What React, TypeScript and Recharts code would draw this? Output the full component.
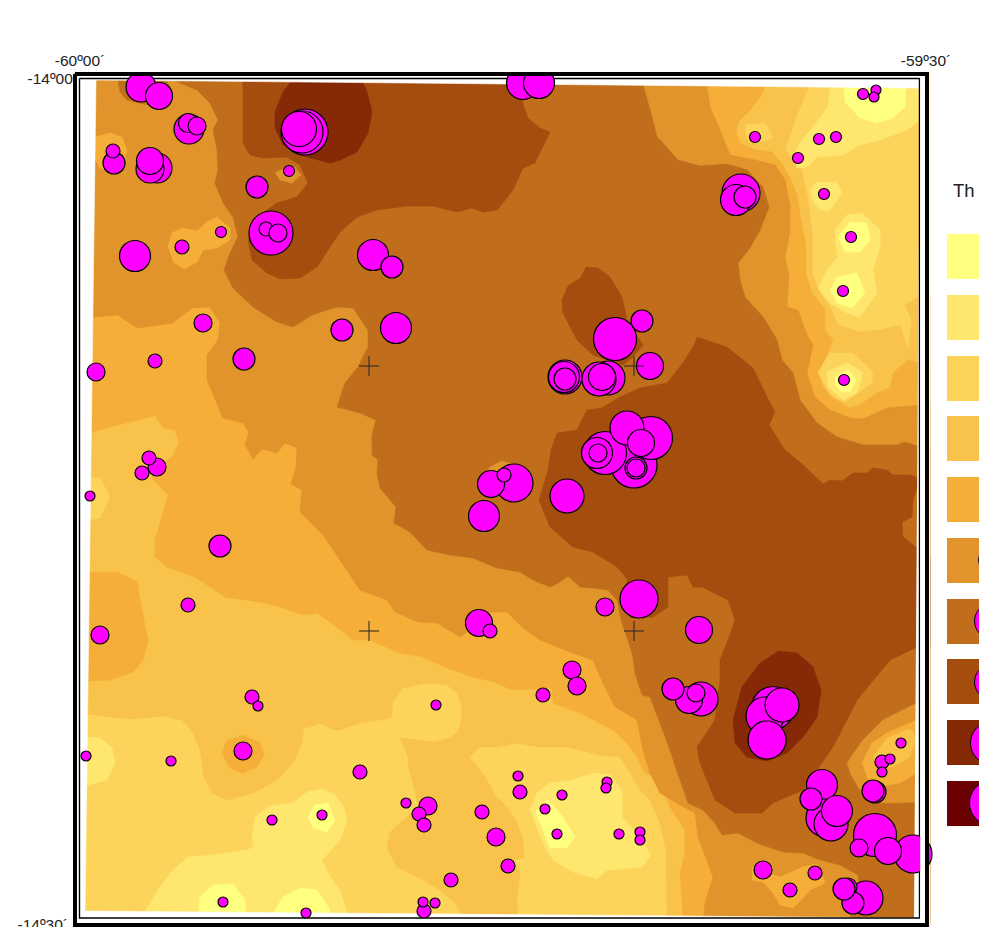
import { Legend, Scatter, ScatterChart, XAxis, YAxis, ZAxis } from "recharts";

type Pt = [number, number];

// map grid: x = 80 and 926 are -60º00´ and -59º30´, y = 78 and 924 are -14º00´ and -14º30´
const X_TICKS = [80, 926];
const Y_TICKS = [78, 924];
const X_LABELS = ["-60º00´", "-59º30´"];
const Y_LABELS = ["-14º00´", "-14º30´"];

const COLORS = ["#FFFF80", "#FEE66F", "#FCD45C", "#F8C24B", "#F5AE37", "#E0942B", "#C06E1C", "#A54C0F", "#862906", "#6B0000"];
const LEGEND_TH = [0, 7, 8, 10, 13, 14, 18, 18, 22, 23];

const MAP_BASE: Pt[] = [[70, 70], [930, 70], [930, 925], [70, 925]];

const ZONE_4: Pt[] = [[70, 70], [809, 70], [809, 86], [803, 100], [795, 120], [790, 135], [785, 150], [798, 163], [803, 175], [808, 200], [812, 230], [812, 253], [812, 273], [820, 293], [830, 307], [838, 325], [860, 332], [880, 330], [900, 325], [908, 350], [912, 320], [905, 305], [920, 296], [930, 296], [930, 925], [667, 925], [667, 917], [666, 850], [660, 823], [650, 800], [640, 790], [630, 773], [620, 757], [600, 755], [567, 747], [540, 747], [517, 743], [497, 747], [480, 747], [469, 757], [480, 770], [487, 780], [495, 795], [507, 807], [517, 823], [523, 840], [524, 858], [513, 860], [520, 873], [517, 900], [518, 925], [468, 925], [455, 903], [440, 890], [423, 880], [397, 867], [387, 848], [390, 832], [407, 817], [418, 807], [415, 790], [409, 770], [408, 757], [400, 738], [417, 740], [433, 742], [450, 738], [459, 730], [461, 720], [462, 707], [457, 693], [447, 685], [427, 683], [403, 688], [393, 702], [391, 718], [380, 720], [360, 723], [340, 730], [333, 730], [320, 723], [307, 728], [304, 727], [302, 743], [293, 763], [277, 780], [253, 793], [227, 800], [212, 793], [204, 777], [200, 750], [193, 733], [182, 720], [163, 716], [133, 719], [110, 717], [87, 714], [70, 714]];

const ZONE_5: Pt[] = [[70, 70], [765, 70], [765, 87], [760, 97], [750, 110], [738, 122], [736, 133], [740, 143], [755, 150], [772, 152], [783, 165], [790, 178], [797, 195], [800, 215], [805, 240], [806, 253], [806, 275], [812, 293], [825, 310], [825, 330], [833, 340], [830, 348], [818, 373], [823, 387], [833, 398], [850, 408], [860, 405], [877, 393], [890, 388], [893, 373], [908, 360], [920, 363], [930, 363], [930, 925], [683, 925], [682, 897], [680, 873], [685, 853], [685, 830], [670, 807], [660, 782], [650, 775], [645, 773], [637, 757], [627, 743], [613, 730], [580, 713], [553, 703], [552, 688], [527, 689], [512, 690], [495, 682], [473, 677], [447, 668], [423, 657], [400, 653], [370, 640], [353, 640], [337, 627], [317, 613], [303, 615], [280, 607], [260, 602], [225, 597], [195, 577], [167, 567], [155, 557], [155, 540], [162, 517], [168, 495], [152, 478], [157, 467], [172, 457], [179, 443], [175, 430], [163, 428], [155, 416], [117, 425], [90, 433], [70, 433]];

const ZONE_6: Pt[] = [[70, 70], [707, 70], [707, 87], [710, 107], [718, 125], [730, 155], [755, 160], [775, 165], [785, 180], [790, 205], [790, 230], [785, 258], [789, 275], [787, 307], [798, 310], [807, 335], [813, 345], [807, 373], [815, 397], [830, 410], [850, 418], [863, 419], [887, 408], [920, 405], [930, 405], [930, 925], [703, 925], [705, 903], [713, 877], [698, 837], [695, 813], [680, 805], [660, 793], [650, 773], [643, 750], [637, 720], [615, 707], [603, 683], [593, 660], [570, 652], [540, 640], [523, 628], [507, 612], [490, 612], [472, 628], [460, 637], [437, 623], [418, 622], [395, 612], [387, 600], [360, 590], [340, 560], [323, 535], [300, 512], [302, 490], [291, 484], [296, 467], [297, 448], [285, 443], [277, 453], [262, 449], [253, 459], [245, 445], [249, 432], [243, 423], [223, 418], [207, 380], [207, 355], [218, 340], [220, 323], [210, 307], [192, 308], [173, 323], [137, 328], [118, 315], [93, 317], [70, 317]];

const ZONE_7: Pt[] = [[173, 70], [643, 70], [643, 85], [652, 117], [657, 137], [660, 140], [678, 160], [700, 166], [727, 164], [747, 170], [763, 187], [769, 207], [760, 230], [750, 248], [738, 263], [740, 280], [745, 297], [763, 317], [773, 333], [777, 340], [782, 360], [793, 373], [800, 400], [817, 423], [837, 437], [863, 445], [897, 445], [905, 442], [920, 447], [930, 447], [930, 925], [850, 925], [850, 918], [860, 890], [858, 875], [840, 865], [820, 860], [803, 853], [783, 852], [757, 843], [738, 833], [722, 835], [715, 823], [703, 810], [688, 803], [680, 780], [670, 750], [660, 723], [650, 697], [642, 695], [635, 673], [633, 657], [628, 640], [621, 620], [617, 600], [608, 590], [593, 588], [580, 587], [568, 576], [560, 582], [550, 587], [533, 580], [520, 572], [497, 568], [473, 558], [450, 555], [427, 550], [410, 532], [394, 523], [396, 507], [380, 488], [377, 473], [378, 460], [372, 455], [372, 435], [376, 420], [360, 413], [337, 407], [345, 383], [358, 367], [368, 347], [368, 330], [353, 308], [340, 307], [333, 308], [312, 315], [293, 327], [277, 322], [253, 307], [233, 288], [224, 270], [230, 253], [238, 237], [233, 217], [223, 203], [215, 183], [218, 170], [217, 150], [213, 130], [218, 120], [210, 103], [197, 90], [173, 80]];
const ZONE_7_TOP_LEFT: Pt[] = [[116, 70], [120, 92], [127, 100], [140, 103], [160, 108], [172, 90], [160, 70]];

const ZONE_8_NORTH: Pt[] = [[242, 70], [505, 70], [510, 78], [523, 98], [523, 105], [528, 118], [540, 128], [550, 132], [535, 163], [523, 168], [513, 190], [497, 210], [483, 212], [472, 208], [457, 212], [433, 206], [407, 206], [377, 210], [357, 217], [340, 232], [330, 247], [317, 267], [300, 278], [280, 279], [267, 273], [252, 260], [248, 240], [257, 217], [277, 203], [297, 197], [308, 183], [300, 165], [287, 157], [263, 158], [250, 155], [243, 143], [243, 107]];
const ZONE_8_HILL: Pt[] = [[586, 267], [598, 268], [610, 277], [622, 297], [627, 320], [643, 345], [633, 357], [623, 365], [593, 355], [577, 340], [563, 313], [562, 300], [568, 286], [580, 278]];
const ZONE_8_MAIN: Pt[] = [[697, 337], [727, 347], [753, 368], [767, 397], [775, 412], [769, 425], [785, 450], [802, 464], [823, 484], [830, 480], [842, 481], [853, 473], [867, 473], [873, 468], [887, 470], [893, 475], [910, 475], [920, 478], [913, 500], [912, 517], [902, 522], [903, 537], [917, 548], [920, 555], [930, 555], [930, 647], [917, 647], [890, 660], [857, 700], [833, 747], [803, 790], [773, 803], [762, 813], [735, 813], [715, 800], [700, 763], [697, 747], [715, 720], [720, 680], [720, 660], [728, 640], [735, 620], [728, 600], [702, 587], [693, 587], [687, 575], [668, 577], [668, 607], [653, 617], [630, 618], [622, 590], [628, 580], [617, 567], [593, 552], [573, 547], [550, 527], [539, 500], [548, 470], [551, 450], [557, 433], [577, 430], [587, 410], [602, 408], [620, 397], [640, 388], [667, 383], [683, 363], [693, 347]];

const ZONE_9_NORTH: Pt[] = [[300, 70], [283, 92], [275, 112], [275, 128], [283, 145], [300, 155], [330, 163], [340, 160], [357, 152], [368, 133], [372, 112], [367, 92], [358, 70]];
const ZONE_9_SOUTH: Pt[] = [[778, 651], [797, 653], [813, 667], [821, 690], [817, 717], [803, 737], [787, 753], [767, 761], [747, 757], [735, 743], [733, 720], [742, 687], [760, 663]];

const SPOT_6_TOP: Pt[] = [[275, 173], [287, 167], [295, 167], [301, 175], [292, 183], [280, 180]];
const SPOT_6_BUBBLES: Pt[] = [[483, 478], [490, 467], [502, 461], [512, 464], [500, 480]];
const SPOT_6_EAST: Pt[] = [[847, 763], [863, 740], [883, 720], [917, 703], [930, 703], [930, 802], [917, 802], [893, 803], [873, 802], [860, 790], [850, 773]];
const SPOT_5_EAST: Pt[] = [[862, 763], [872, 743], [887, 733], [917, 720], [930, 720], [930, 770], [917, 773], [900, 783], [877, 787], [867, 777]];
const SPOT_4_EAST: Pt[] = [[873, 757], [887, 738], [910, 729], [916, 737], [910, 757], [893, 767], [880, 770]];
const SPOT_5_A: Pt[] = [[95, 137], [110, 133], [122, 137], [127, 150], [124, 165], [113, 173], [100, 168], [94, 157]];
const SPOT_5_B: Pt[] = [[168, 247], [172, 233], [182, 228], [197, 231], [207, 222], [217, 217], [230, 228], [230, 240], [217, 248], [203, 250], [197, 262], [185, 269], [173, 262]];
const SPOT_5_SOUTH: Pt[] = [[70, 573], [117, 572], [137, 582], [140, 600], [148, 640], [143, 660], [133, 672], [110, 680], [70, 682]];
const SPOT_5_C: Pt[] = [[243, 735], [260, 743], [264, 755], [257, 767], [243, 773], [230, 768], [222, 753], [227, 740]];
const SPOT_5_D: Pt[] = [[752, 867], [768, 873], [780, 877], [803, 867], [817, 864], [825, 883], [810, 890], [803, 898], [793, 908], [780, 905], [773, 893], [763, 882], [752, 880]];
const SPOT_3_WEST: Pt[] = [[70, 477], [100, 478], [110, 497], [100, 518], [70, 523]];
const SPOT_3_NE: Pt[] = [[745, 125], [765, 123], [773, 138], [757, 143], [746, 138]];
const SPOT_3_EAST: Pt[] = [[818, 373], [830, 353], [853, 353], [873, 372], [872, 383], [855, 395], [845, 402], [830, 395]];

const LIGHT_2_NE: Pt[] = [[830, 70], [830, 87], [828, 107], [813, 127], [800, 143], [793, 157], [797, 168], [807, 167], [817, 157], [843, 155], [860, 145], [880, 140], [907, 130], [920, 120], [930, 120], [930, 70]];
const LIGHT_1_NE: Pt[] = [[843, 70], [845, 102], [860, 118], [877, 123], [893, 118], [905, 107], [907, 70]];
const LIGHT_2_CHAIN: Pt[] = [[835, 230], [847, 215], [862, 213], [880, 230], [880, 247], [873, 270], [877, 293], [860, 317], [847, 313], [830, 303], [818, 288], [827, 270], [838, 257], [835, 240]];
const LIGHT_1_A: Pt[] = [[838, 237], [850, 222], [867, 223], [870, 240], [860, 252], [845, 252]];
const LIGHT_1_B: Pt[] = [[830, 290], [837, 277], [857, 273], [865, 293], [852, 308], [837, 303]];
const LIGHT_2_SPOT: Pt[] = [[810, 190], [817, 182], [837, 182], [842, 193], [830, 210], [820, 210], [812, 200]];
const LIGHT_2_EAST: Pt[] = [[827, 372], [848, 363], [863, 373], [857, 393], [843, 400], [828, 387]];
const LIGHT_1_EAST: Pt[] = [[835, 377], [848, 370], [856, 380], [850, 392], [842, 392], [835, 385]];
const LIGHT_2_WEST: Pt[] = [[70, 735], [100, 738], [112, 748], [115, 763], [107, 780], [70, 790]];
const LIGHT_2_SOUTH: Pt[] = [[145, 925], [145, 911], [160, 887], [173, 870], [188, 857], [213, 855], [247, 850], [254, 847], [252, 837], [255, 817], [270, 806], [293, 803], [307, 792], [322, 789], [335, 795], [343, 805], [347, 820], [340, 840], [322, 860], [330, 877], [340, 890], [347, 913], [347, 925]];
const LIGHT_1_S1: Pt[] = [[308, 817], [315, 805], [328, 803], [335, 820], [327, 832], [313, 828]];
const LIGHT_1_S2: Pt[] = [[199, 925], [199, 911], [200, 897], [213, 885], [233, 884], [245, 900], [246, 925]];
const LIGHT_1_S3: Pt[] = [[273, 925], [273, 913], [283, 897], [300, 888], [317, 890], [330, 910], [330, 925]];
const LIGHT_2_CENTER: Pt[] = [[530, 810], [537, 793], [550, 783], [573, 780], [593, 773], [610, 775], [622, 790], [622, 817], [637, 833], [651, 855], [642, 867], [607, 870], [597, 879], [573, 872], [553, 860], [543, 843]];
const LIGHT_1_CENTER: Pt[] = [[535, 812], [547, 800], [560, 813], [575, 837], [567, 848], [550, 848], [543, 830]];

// level index into COLORS, painted in this order
const CONTOURS: [number, Pt[]][] = [
  [2, MAP_BASE], [3, ZONE_4], [4, ZONE_5], [5, ZONE_6], [6, ZONE_7], [6, ZONE_7_TOP_LEFT],
  [7, ZONE_8_NORTH], [7, ZONE_8_HILL], [7, ZONE_8_MAIN], [8, ZONE_9_NORTH], [8, ZONE_9_SOUTH],
  [5, SPOT_6_TOP], [5, SPOT_6_BUBBLES], [5, SPOT_6_EAST], [4, SPOT_5_EAST], [3, SPOT_4_EAST],
  [4, SPOT_5_A], [4, SPOT_5_B], [4, SPOT_5_SOUTH], [4, SPOT_5_C], [4, SPOT_5_D],
  [2, SPOT_3_WEST], [2, SPOT_3_NE], [2, SPOT_3_EAST],
  [1, LIGHT_2_NE], [0, LIGHT_1_NE], [1, LIGHT_2_CHAIN], [0, LIGHT_1_A], [0, LIGHT_1_B], [1, LIGHT_2_SPOT],
  [1, LIGHT_2_EAST], [0, LIGHT_1_EAST], [1, LIGHT_2_WEST], [1, LIGHT_2_SOUTH], [0, LIGHT_1_S1], [0, LIGHT_1_S2],
  [0, LIGHT_1_S3], [1, LIGHT_2_CENTER], [0, LIGHT_1_CENTER],
];

// outside of the slightly tilted map sheet
const OUTSIDE: Pt[][] = [
  [[70, 76], [96, 80], [85, 911], [70, 925]],
  [[70, 60], [930, 60], [930, 88], [920, 88], [96, 80], [70, 80]],
  [[920, 88], [930, 88], [930, 925], [914, 925], [914, 918]],
  [[70, 925], [930, 925], [930, 918], [914, 918], [85, 911], [70, 911]],
];

const RIGHT_CLIP: Pt[] = [[920.2, 60], [925, 60], [925, 925], [920.2, 925]];
const TOP_CLIP: Pt[] = [[110, 50], [890, 50], [890, 74], [110, 74]];

const CROSSES: Pt[] = [[369, 366], [634, 366], [369, 631], [634, 631]];
const FRAME_OUTER: Pt[] = [[75, 74], [927, 74], [927, 925], [75, 925], [75, 74]];
const FRAME_INNER: Pt[] = [[79.5, 78.5], [919.5, 78.5], [919.5, 918], [79.5, 918], [79.5, 78.5]];

// x, y, Th class
const SAMPLES: [number, number, number][] = [
  [141, 87, 15], [159, 96, 13.5], [189, 129, 15], [188, 123, 9.5], [197, 126, 9], [114, 163, 11], [113, 151, 7],
  [157, 168, 15], [150, 169, 14], [150, 161, 13.5], [135, 256, 15.5], [182, 247, 7], [221, 232, 5.5], [203, 323, 9],
  [257, 187, 11], [289, 171, 5.5], [271, 233, 22], [266, 229, 7], [278, 233, 9], [305, 132, 23], [302, 132, 21],
  [299, 129, 17.5], [342, 330, 11], [523, 83, 16.5], [539, 83, 15.5], [373, 255, 15.5], [392, 267, 11], [396, 328, 15.5],
  [642, 321, 11], [615, 339, 21.5], [650, 366, 13.5], [565, 377, 17], [564, 377, 15.5], [565, 379, 11],
  [608, 378, 17], [599, 379, 17], [602, 377, 13.5], [634, 465, 23], [605, 453, 21.5], [597, 453, 15.5], [598, 453, 9],
  [636, 468, 11], [636, 468, 9], [651, 438, 21.5], [627, 428, 17], [641, 443, 13.5], [514, 483, 19], [491, 484, 13.5],
  [504, 475, 7], [484, 516, 15.5], [567, 496, 17], [639, 599, 19], [605, 607, 9], [479, 623, 13.5], [490, 631, 7],
  [844, 380, 5.5], [699, 630, 13.5], [876, 90, 5], [863, 94, 5.5], [874, 97, 5], [755, 137, 5.5], [819, 139, 5.5],
  [836, 137, 5.5], [798, 158, 5.5], [824, 194, 5.5], [851, 237, 5.5], [843, 291, 5.5], [741, 193, 19], [736, 200, 15.5],
  [745, 197, 11], [96, 372, 9], [155, 361, 7], [244, 359, 11], [157, 467, 9], [149, 458, 7], [142, 473, 7], [90, 496, 5],
  [220, 546, 11], [188, 605, 7], [100, 635, 9], [252, 697, 7], [258, 706, 5], [243, 751, 9], [86, 756, 5], [171, 761, 5],
  [272, 820, 5], [322, 815, 5], [223, 902, 5], [306, 913, 5], [436, 705, 5], [360, 772, 7], [572, 670, 9], [577, 686, 9],
  [543, 695, 7], [518, 776, 5], [520, 792, 7], [562, 795, 5], [545, 809, 5], [557, 834, 5], [607, 782, 5], [606, 788, 5],
  [619, 834, 5], [640, 832, 5], [640, 840, 5], [406, 803, 5], [428, 806, 9], [419, 814, 7], [424, 825, 7], [482, 812, 7],
  [496, 837, 9], [508, 866, 7], [451, 880, 7], [424, 911, 7], [423, 902, 5], [435, 903, 5], [701, 699, 17], [689, 700, 13.5],
  [673, 689, 11], [696, 693, 9], [773, 708, 21.5], [765, 716, 19], [782, 705, 17], [767, 740, 19], [822, 785, 15.5],
  [825, 818, 19], [831, 824, 17], [837, 811, 15.5], [811, 799, 11], [913, 854, 19], [875, 835, 21.5], [859, 848, 9],
  [888, 851, 13.5], [875, 792, 11], [873, 791, 11], [901, 743, 5], [882, 762, 7], [890, 759, 5], [882, 772, 5],
  [763, 870, 9], [790, 890, 7], [815, 873, 7], [866, 898, 17], [848, 887, 9], [853, 903, 11], [844, 889, 11],
];

const toRows = (pts: Pt[]) => pts.map(([x, y]) => ({ x, y }));
const sampleRows = SAMPLES.map(([x, y, th]) => ({ x, y, z: th * th }));

const NoMark = () => <g />;

function CrossMark({ cx, cy }: any) {
  return (
    <g stroke="#222" strokeWidth={1}>
      <line x1={cx - 10} x2={cx + 10} y1={cy} y2={cy} />
      <line x1={cx} x2={cx} y1={cy - 10} y2={cy + 10} />
    </g>
  );
}

function polygon(pts: Pt[], key: string, fill: string) {
  return (
    <Scatter
      key={key}
      yAxisId="left"
      data={toRows(pts)}
      shape={NoMark}
      line={{ fill, stroke: fill, strokeWidth: 0.6 }}
      lineJointType="linear"
      isAnimationActive={false}
    />
  );
}

function outline(pts: Pt[], key: string, width: number) {
  return (
    <Scatter
      key={key}
      yAxisId="left"
      data={toRows(pts)}
      shape={NoMark}
      line={{ fill: "none", stroke: "#000", strokeWidth: width }}
      lineJointType="linear"
      isAnimationActive={false}
    />
  );
}

function LeftTick({ y, payload }: any) {
  const i = Y_TICKS.indexOf(payload.value);
  return (
    <text x={i === 0 ? 70 : 60} y={y + 6} textAnchor="end" fontSize={15.5} fontFamily="Liberation Sans" fill="#222">
      {Y_LABELS[i]}
    </text>
  );
}

function RightTick({ y, payload }: any) {
  const i = Y_TICKS.indexOf(payload.value);
  return (
    <text x={926} y={y + 6} textAnchor="start" fontSize={15.5} fontFamily="Liberation Sans" fill="#222">
      {Y_LABELS[i]}
    </text>
  );
}

function TopTick({ x, payload }: any) {
  const i = X_TICKS.indexOf(payload.value);
  return (
    <text x={x} y={58} textAnchor="middle" fontSize={15.5} fontFamily="Liberation Sans" fill="#222">
      {X_LABELS[i]}
    </text>
  );
}

function LegendPanel() {
  return (
    <div style={{ position: "relative", width: 60, height: 660, overflow: "hidden", fontFamily: "Liberation Sans" }}>
      <div style={{ position: "absolute", left: 6, top: 0, fontSize: 18.5, lineHeight: "26px", whiteSpace: "nowrap", color: "#222" }}>Th -</div>
      {COLORS.map((c, i) => (
        <div key={c} style={{ position: "absolute", left: 0, top: 56 + i * 60.75, width: 60, height: 45, background: c, overflow: "hidden" }}>
          {LEGEND_TH[i] > 0 && (
            <div
              style={{
                position: "absolute",
                left: 45 - LEGEND_TH[i],
                top: 22.5 - LEGEND_TH[i],
                width: LEGEND_TH[i] * 2,
                height: LEGEND_TH[i] * 2,
                borderRadius: "50%",
                background: "#FF00FF",
                border: "1.3px solid #000",
                boxSizing: "border-box",
              }}
            />
          )}
        </div>
      ))}
    </div>
  );
}

export default function App() {
  return (
    <div style={{ width: 979, height: 919, position: "relative", overflow: "hidden" }}>
      <ScatterChart width={979} height={927} margin={{ left: 51, top: 41, right: 56, bottom: 5 }}>
        <XAxis
          type="number"
          dataKey="x"
          orientation="top"
          domain={[60, 930]}
          ticks={X_TICKS}
          interval={0}
          height={1}
          axisLine={false}
          tickLine={false}
          tickSize={0}
          tick={TopTick}
        />
        <YAxis
          yAxisId="left"
          type="number"
          dataKey="y"
          domain={[50, 930]}
          reversed
          ticks={Y_TICKS}
          interval={0}
          width={1}
          axisLine={false}
          tickLine={false}
          tickSize={0}
          tick={LeftTick}
        />
        <YAxis
          yAxisId="right"
          orientation="right"
          type="number"
          dataKey="y"
          domain={[50, 930]}
          reversed
          ticks={Y_TICKS}
          interval={0}
          width={1}
          axisLine={false}
          tickLine={false}
          tickSize={0}
          tick={RightTick}
        />
        <ZAxis type="number" dataKey="z" domain={[0, 600]} range={[0, 600 * Math.PI]} />
        <Legend
          layout="vertical"
          align="center"
          verticalAlign="middle"
          width={60}
          wrapperStyle={{ left: 939, top: 170, width: 60, height: 660 }}
          content={<LegendPanel />}
        />
        {CONTOURS.map(([level, pts], i) => polygon(pts, `c${i}`, COLORS[level]))}
        {OUTSIDE.map((pts, i) => polygon(pts, `o${i}`, "#FFFFFF"))}
        {outline(FRAME_INNER, "inner", 1.4)}
        <Scatter yAxisId="left" data={sampleRows} fill="#FF00FF" stroke="#000" strokeWidth={1.2} isAnimationActive={false} />
        {polygon(RIGHT_CLIP, "rclip", "#FFFFFF")}
        {polygon(TOP_CLIP, "tclip", "#FFFFFF")}
        <Scatter yAxisId="left" data={toRows(CROSSES)} shape={CrossMark} isAnimationActive={false} />
        {outline(FRAME_OUTER, "outer", 4)}
      </ScatterChart>
    </div>
  );
}
